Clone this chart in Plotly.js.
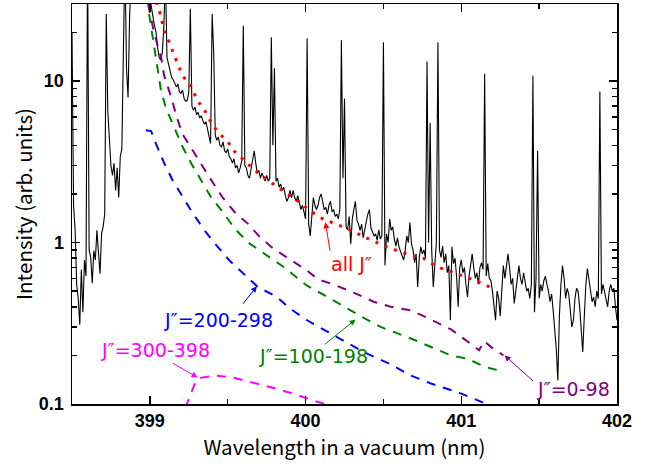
<!DOCTYPE html>
<html>
<head>
<meta charset="utf-8">
<script src="https://cdn.plot.ly/plotly-3.0.1.min.js"></script>
<style>html,body{margin:0;padding:0;background:#fff;}#chart{width:655px;height:466px;}</style>
</head>
<body>
<div id="chart"></div>
<script>
// Measured spectrum: wavelength (nm) and intensity (arb. units)
const wavelength = [
398.50,398.51,398.52,398.53,398.54,398.55,398.56,398.57,398.58,398.59,
398.60,398.61,398.62,398.63,398.64,398.65,398.66,398.67,398.68,398.69,
398.70,398.71,398.72,398.73,398.74,398.75,398.76,398.77,398.78,398.79,
398.80,398.81,398.82,398.83,398.84,398.85,398.86,398.87,398.88,398.89,
398.90,398.91,398.92,398.93,398.94,398.95,398.96,398.97,398.98,398.99,
399.00,399.01,399.02,399.03,399.04,399.05,399.06,399.07,399.08,399.09,
399.10,399.11,399.12,399.13,399.14,399.15,399.16,399.17,399.18,399.19,
399.20,399.21,399.22,399.23,399.24,399.25,399.26,399.27,399.28,399.29,
399.30,399.31,399.32,399.33,399.34,399.35,399.36,399.37,399.38,399.39,
399.40,399.41,399.42,399.43,399.44,399.45,399.46,399.47,399.48,399.49,
399.50,399.51,399.52,399.53,399.54,399.55,399.56,399.57,399.58,399.59,
399.60,399.61,399.62,399.63,399.64,399.65,399.66,399.67,399.68,399.69,
399.70,399.71,399.72,399.73,399.74,399.75,399.76,399.77,399.78,399.79,
399.80,399.81,399.82,399.83,399.84,399.85,399.86,399.87,399.88,399.89,
399.90,399.91,399.92,399.93,399.94,399.95,399.96,399.97,399.98,399.99,
400.00,400.01,400.02,400.03,400.04,400.05,400.06,400.07,400.08,400.09,
400.10,400.11,400.12,400.13,400.14,400.15,400.16,400.17,400.18,400.19,
400.20,400.21,400.22,400.23,400.24,400.25,400.26,400.27,400.28,400.29,
400.30,400.31,400.32,400.33,400.34,400.35,400.36,400.37,400.38,400.39,
400.40,400.41,400.42,400.43,400.44,400.45,400.46,400.47,400.48,400.49,
400.50,400.51,400.52,400.53,400.54,400.55,400.56,400.57,400.58,400.59,
400.60,400.61,400.62,400.63,400.64,400.65,400.66,400.67,400.68,400.69,
400.70,400.71,400.72,400.73,400.74,400.75,400.76,400.77,400.78,400.79,
400.80,400.81,400.82,400.83,400.84,400.85,400.86,400.87,400.88,400.89,
400.90,400.91,400.92,400.93,400.94,400.95,400.96,400.97,400.98,400.99,
401.00,401.01,401.02,401.03,401.04,401.05,401.06,401.07,401.08,401.09,
401.10,401.11,401.12,401.13,401.14,401.15,401.16,401.17,401.18,401.19,
401.20,401.21,401.22,401.23,401.24,401.25,401.26,401.27,401.28,401.29,
401.30,401.31,401.32,401.33,401.34,401.35,401.36,401.37,401.38,401.39,
401.40,401.41,401.42,401.43,401.44,401.45,401.46,401.47,401.48,401.49,
401.50,401.51,401.52,401.53,401.54,401.55,401.56,401.57,401.58,401.59,
401.60,401.61,401.62,401.63,401.64,401.65,401.66,401.67,401.68,401.69,
401.70,401.71,401.72,401.73,401.74,401.75,401.76,401.77,401.78,401.79,
401.80,401.81,401.82,401.83,401.84,401.85,401.86,401.87,401.88,401.89,
401.90,401.91,401.92,401.93,401.94,401.95,401.96,401.97,401.98,401.99,
402.00
];
const intensity = [
20,1.7,1.2,0.55,0.45,0.31,0.68,0.37,0.78,0.62,
60,0.9,0.81,0.56,0.89,0.78,1.19,0.85,0.64,1.14,
1.25,1.5,26,6.5,4.5,3.0,2.6,3.1,2.1,2.9,
1.9,3.4,3.8,40,60,12,7.9,25,80,100,
150,200,200,150,120,90,70,55,45,38,
33,28,25,22,20,16,14,13.5,15,22,
45,14,12.5,11.5,10.5,10.2,9.6,9.2,9.6,8.6,
8.4,8.8,7.8,7.5,7.6,8.5,28,7.0,6.6,6.9,
6.2,6.4,5.9,6.1,5.7,5.4,5.6,5.0,4.6,4.1,
26,15,4.6,4.3,4.5,4.0,3.9,4.2,3.7,3.6,
3.8,3.4,3.3,3.1,3.3,2.9,3.0,2.7,2.9,3.2,
22,3.0,2.9,2.6,2.5,2.9,3.4,3.7,3.1,2.7,
2.8,2.5,2.7,2.5,2.4,2.6,2.4,2.5,18.7,4,
12,2.4,2.5,2.2,2.3,2.1,2.2,1.95,1.8,1.9,
2.1,1.9,2.1,1.9,1.8,1.95,1.75,1.6,1.7,1.5,
1.4,18.4,1.3,1.1,1.5,1.9,1.7,1.6,1.7,1.9,
2.0,1.8,1.6,1.65,1.5,1.7,1.8,1.55,1.6,1.45,
1.5,1.4,1.6,17.9,2.5,7.8,1.25,1.2,1.45,0.98,
1.4,1.6,1.8,1.37,1.3,1.19,1.3,1.07,1.23,1.35,
1.5,1.6,1.23,1.15,1.1,1.13,1.03,1.2,1.05,1.1,
17.4,0.72,1.13,1.0,1.4,1.19,1.25,1.05,0.95,1.07,
0.94,0.88,0.82,0.78,0.9,1.1,1.0,1.33,0.98,0.9,
0.75,0.85,0.53,0.8,0.94,0.85,0.9,0.8,13.2,1.0,
5.5,0.9,0.53,0.8,1.0,17.4,0.9,0.81,0.95,0.75,
0.85,0.65,0.72,0.33,0.94,0.74,0.8,0.61,0.4,0.7,
0.78,0.65,0.7,0.55,0.46,0.62,0.75,0.85,0.7,0.6,
0.65,0.55,0.7,0.75,0.68,11.1,0.62,0.74,0.6,0.58,
0.5,0.42,0.33,0.5,0.45,0.35,0.55,0.72,0.6,0.7,
0.85,0.7,0.55,0.6,0.42,0.5,0.62,0.72,0.6,0.55,
0.65,0.58,0.5,0.52,0.45,0.55,10.8,0.37,0.6,3.7,
0.45,0.55,0.5,0.58,0.62,0.55,0.5,0.43,0.48,0.38,
0.3,0.22,0.14,0.35,0.55,0.72,0.6,0.45,0.52,0.48,
0.38,0.3,0.33,0.45,0.52,0.5,0.4,0.3,0.21,0.35,
0.55,0.69,0.6,0.5,0.43,0.46,0.4,0.5,0.45,8.6,
0.48,0.55,0.5,0.45,0.4,0.5,0.55,0.5,0.52,0.4,
0.33
];

// Simulated band contour, all J''
const allJ_wl  = [399.04,399.073,399.092,399.125,399.157,399.222,399.26,399.306,399.351,399.396,399.441,399.5,399.551,399.61,399.674,399.739,399.804,399.875,399.946,400.01,400.082,400.152,400.23,400.308,400.379,400.456,400.534,400.605,400.689,400.767,400.831,400.915,400.993,401.071,401.129,401.2];
const allJ_int = [31,24.8,20.4,17.4,14.4,10.4,9.4,7.6,6.6,5.5,4.8,4.2,3.6,3.2,2.8,2.5,2.26,2.02,1.82,1.63,1.45,1.35,1.26,1.17,1.08,1.0,0.93,0.88,0.83,0.79,0.72,0.67,0.63,0.59,0.56,0.52];

// J''=0-98
const j0_wl  = [398.989,399.028,399.073,399.092,399.138,399.17,399.209,399.267,399.332,399.403,399.467,399.545,399.629,399.707,399.791,399.836,400.01,400.082,400.179,400.308,400.437,400.547,400.676,400.786,400.934,401.076,401.114,401.147,401.192,401.27];
const j0_int = [30,19.7,13.9,10.8,7.9,6.1,4.7,3.83,3.0,2.36,1.9,1.54,1.31,1.08,0.92,0.86,0.67,0.59,0.55,0.49,0.43,0.40,0.38,0.34,0.29,0.23,0.215,0.245,0.225,0.2];

// J''=100-198
const j100_wl  = [398.995,399.028,399.071,399.103,399.157,399.211,399.265,399.33,399.394,399.469,399.545,399.631,399.752,399.855,400.01,400.159,400.353,400.482,400.696,400.934,401.045,401.148,401.258];
const j100_int = [26,16,8.8,6.8,5.1,3.9,3.1,2.43,1.9,1.54,1.22,1.0,0.83,0.71,0.54,0.45,0.35,0.30,0.25,0.20,0.19,0.17,0.16];

// J''=200-298
const j200_wl  = [398.974,399.008,399.039,399.092,399.146,399.211,399.275,399.351,399.416,399.513,399.597,399.694,399.816,399.9,400.01,400.114,400.224,400.372,400.547,400.676,400.805,401.0,401.161,401.2];
const j200_int = [4.95,4.9,4.1,3.1,2.43,1.9,1.52,1.19,0.99,0.77,0.65,0.53,0.46,0.39,0.33,0.29,0.25,0.21,0.176,0.15,0.134,0.116,0.1,0.094];

// J''=300-398
const j300_wl  = [399.228,399.243,399.297,399.319,399.427,399.532,399.661,399.79,399.92,400.049,400.159];
const j300_int = [0.095,0.104,0.14,0.145,0.15,0.146,0.136,0.126,0.116,0.105,0.098];

// Minor tick values of the log axis
const yMinorTicks = [0.2,0.3,0.4,0.5,0.6,0.7,0.8,0.9,2,3,4,5,6,7,8,9,20,30];

const labels = {
  all: 'all J″', j0: 'J″=0-98', j100: 'J″=100-198', j200: 'J″=200-298', j300: 'J″=300-398'
};
const colors = {all:'#ff0000', j0:'#800080', j100:'#008000', j200:'#0000ff', j300:'#ff00ff'};

const dashStyle = '9px,8px';
const traces = [
  {x: wavelength, y: intensity, mode:'lines', line:{color:'#000', width:1.1}, hoverinfo:'skip'},
  {x: j300_wl, y: j300_int, mode:'lines', line:{color:colors.j300, width:2, dash:dashStyle}},
  {x: j200_wl, y: j200_int, mode:'lines', line:{color:colors.j200, width:2, dash:dashStyle}},
  {x: j100_wl, y: j100_int, mode:'lines', line:{color:colors.j100, width:2, dash:dashStyle}},
  {x: j0_wl, y: j0_int, mode:'lines', line:{color:colors.j0, width:2, dash:dashStyle}},
  {x: allJ_wl, y: allJ_int, mode:'lines', line:{color:colors.all, width:3, dash:'3px,7px', shape:'spline'}}
];

const annFont = (c) => ({family:'DejaVu Sans, Noto Sans', size:19, color:c});
function arrow(xv, yv, ax, ay, c) {
  return {x:xv, y:Math.log10(yv), xref:'x', yref:'y', text:'', showarrow:true, arrowhead:2, arrowsize:1.2, arrowwidth:1, arrowcolor:c, ax:ax, ay:ay, standoff:0, startstandoff:0};
}
function label(xv, yv, t, c) {
  return {x:xv, y:Math.log10(yv), xref:'x', yref:'y', text:t, showarrow:false, font:annFont(c), xanchor:'center', yanchor:'middle'};
}
const annotations = [
  label(400.294, 0.733, labels.all, colors.all),
  arrow(400.127, 1.334, 5, 30, colors.all),
  label(399.441, 0.330, labels.j200, colors.j200),
  arrow(399.687, 0.536, -15, 19, colors.j200),
  label(399.034, 0.215, labels.j300, colors.j300),
  arrow(399.306, 0.146, -26, -15, colors.j300),
  label(400.049, 0.198, labels.j100, colors.j100),
  arrow(400.321, 0.334, -32, 26, colors.j100),
  label(401.723, 0.123, labels.j0, colors.j0),
  arrow(401.278, 0.200, 30, 27, colors.j0)
];

const tickFont = {family:'Liberation Sans, Arial, sans-serif', size:18, color:'#000', weight:'bold'};
const titleFont = {family:'Noto Sans CJK JP, Noto Sans, sans-serif', size:20.5, color:'#000'};

const layout = {
  width:655, height:466,
  margin:{l:72, r:38, t:4, b:62},
  paper_bgcolor:'#fff', plot_bgcolor:'#fff',
  showlegend:false,
  xaxis:{
    range:[398.5, 402], tick0:399, dtick:1, ticks:'inside', ticklen:8, tickwidth:1.5, tickcolor:'#000',
    showline:true, linewidth:1.5, linecolor:'#000', mirror:'ticks', showgrid:false, zeroline:false,
    minor:{tick0:398.5, dtick:0.5, ticks:'inside', ticklen:5, tickwidth:1.5, tickcolor:'#000', showgrid:false},
    tickfont:tickFont, ticklabelstandoff:0,
    title:{text:'Wavelength in a vacuum (nm)', font:titleFont, standoff:8}
  },
  yaxis:{
    type:'log', range:[-1, Math.log10(30)], tick0:0, dtick:1, ticks:'inside', ticklen:8, tickwidth:1.5, tickcolor:'#000',
    showline:true, linewidth:1.5, linecolor:'#000', mirror:'ticks', showgrid:false, zeroline:false,
    minor:{tickmode:'array', tickvals:yMinorTicks, ticks:'inside', ticklen:5, tickwidth:1.5, tickcolor:'#000', showgrid:false},
    tickfont:tickFont, ticklabelstandoff:3,
    title:{text:'Intensity (arb. units)', font:titleFont, standoff:0}
  },
  annotations: annotations
};

Plotly.newPlot('chart', traces, layout, {staticPlot:true, displayModeBar:false});
</script>
</body>
</html>
